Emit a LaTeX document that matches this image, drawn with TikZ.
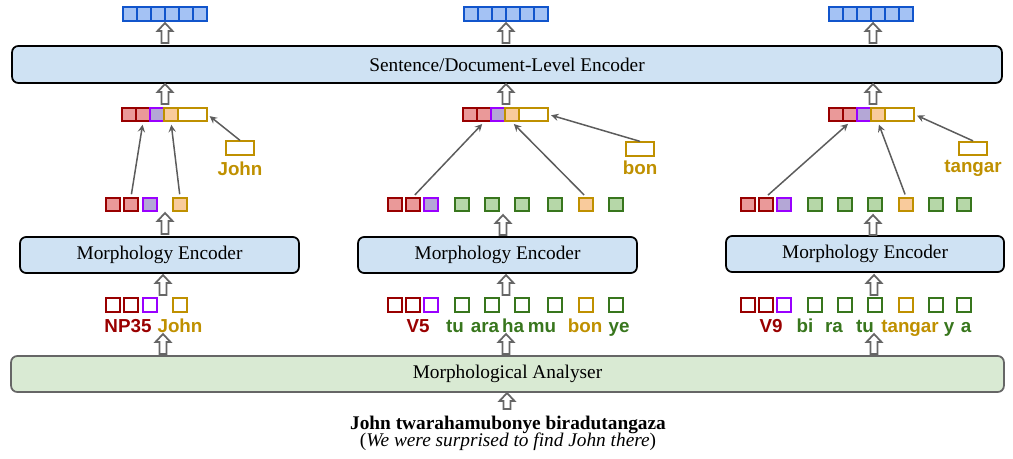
\documentclass[tikz,border=0pt]{standalone}
\usepackage{fontspec}
\setmainfont{Liberation Serif}
\newfontfamily\labfont{Liberation Sans}
\usepackage{tikz}
\usetikzlibrary{arrows}

\definecolor{encfill}{HTML}{CFE2F3}
\definecolor{anafill}{HTML}{D9EAD3}
\definecolor{cgray}{HTML}{666666}
\definecolor{cred}{HTML}{990000}
\definecolor{credf}{HTML}{EA9999}
\definecolor{cpurp}{HTML}{9900FF}
\definecolor{cpurpf}{HTML}{B4A7D6}
\definecolor{cgold}{HTML}{BF9000}
\definecolor{cgoldf}{HTML}{F9CB9C}
\definecolor{cgreen}{HTML}{38761D}
\definecolor{cgreenf}{HTML}{B6D7A8}
\definecolor{cblue}{HTML}{1155CC}
\definecolor{cbluef}{HTML}{A4C2F4}

% hollow block arrow: x, top y, bottom y
\newcommand{\holup}[3]{\draw[holar] (#1-3.5,#3) -- (#1-3.5,#2+8) -- (#1-7.5,#2+8) -- (#1,#2) -- (#1+7.5,#2+8) -- (#1+3.5,#2+8) -- (#1+3.5,#3) -- cycle;}

\begin{document}
\begin{tikzpicture}[x=0.02cm,y=-0.02cm,
    vcell/.style={draw, line width=1pt, inner sep=0pt, minimum size=0.27cm},
    rcell/.style={vcell, draw=cred, fill=credf},
    pcell/.style={vcell, draw=cpurp, fill=cpurpf},
    ocell/.style={vcell, draw=cgold, fill=cgoldf},
    gcell/.style={vcell, draw=cgreen, fill=cgreenf},
    bcell/.style={vcell, draw=cblue, fill=cbluef},
    wbox/.style={vcell, draw=cgold, fill=white, minimum width=0.57cm},
    encbox/.style={draw, line width=1pt, rounded corners=3.5pt, fill=encfill, minimum height=0.72cm, font=\fontsize{11}{13}\selectfont},
    anabox/.style={encbox, draw=cgray, fill=anafill},
    lab/.style={font=\labfont\bfseries\fontsize{10.7}{12}\selectfont, anchor=base, inner sep=0pt},
    thinar/.style={draw=cgray!90!black, line width=0.85pt, -stealth, shorten <=1.5pt, shorten >=1.5pt},
    holar/.style={draw=cgray, fill=white, line width=1pt}]
    \useasboundingbox (0,0) rectangle (1013,459);

    % encoders and analyser
    \node[encbox, minimum width=19.8cm, minimum height=0.74cm] (senc) at (507,64.5) {Sentence/Document-Level Encoder};
    \node[encbox, minimum width=5.58cm] (mencl) at (159.5,255) {Morphology Encoder};
    \node[encbox, minimum width=5.58cm] (mencm) at (497.5,255) {Morphology Encoder};
    \node[encbox, minimum width=5.56cm] (mencr) at (865,254) {Morphology Encoder};
    \node[anabox, minimum width=19.86cm] (ana) at (507.5,374) {Morphological Analyser};

    % output vectors
    \foreach \i in {1,...,6} {
        \node[bcell] (tl\i) at (116+14*\i,14) {};
        \node[bcell] (tm\i) at (457+14*\i,14) {};
        \node[bcell] (tr\i) at (822+14*\i,14) {};
    }

    % concatenated word vectors
    \foreach \t [count=\i] in {r,r,p,o} {
        \node[\t cell] (cl\i) at (115+14*\i,114.5) {};
        \node[\t cell] (cm\i) at (456+14*\i,114.5) {};
        \node[\t cell] (cr\i) at (822+14*\i,114.5) {};
    }
    \node[wbox] (cwl) at (192.5,114.5) {};
    \node[wbox] (cwm) at (533.5,114.5) {};
    \node[wbox] (cwr) at (899.5,114.5) {};

    % stem boxes
    \node[wbox] (jbox) at (240,148) {};
    \node[lab, text=cgold] (jlab) at (240,175) {John};
    \node[wbox] (bbox) at (640,149) {};
    \node[lab, text=cgold] (blab) at (640,174) {bon};
    \node[wbox] (tbox) at (973,148.5) {};
    \node[lab, text=cgold] (tlab) at (973,173) {tangar};

    % morpheme vectors and inputs
    \foreach \x/\t [count=\i] in {113/r,131/r,150/p,180/o} {
        \node[\t cell] (ml\i) at (\x,204.5) {};
        \node[\t cell, fill=white] (il\i) at (\x,305) {};
    }
    \foreach \x/\t [count=\i] in {395/r,413/r,431/p,462/g,492/g,522/g,555/g,586/o,616/g} {
        \node[\t cell] (mm\i) at (\x,204.5) {};
        \node[\t cell, fill=white] (im\i) at (\x,305) {};
    }
    \foreach \x/\t [count=\i] in {748/r,766/r,784/p,815/g,845/g,875/g,906/o,936/g,964/g} {
        \node[\t cell] (mr\i) at (\x,204.5) {};
        \node[\t cell, fill=white] (ir\i) at (\x,305) {};
    }

    % morpheme labels
    \foreach \w/\x/\c [count=\i] in {NP35/128/cred, John/180/cgold}
        \node[lab, text=\c] (wl\i) at (\x,332) {\w};
    \foreach \w/\x/\c [count=\i] in {V5/418/cred, tu/455/cgreen, ara/485/cgreen, ha/513/cgreen, mu/542/cgreen, bon/585/cgold, ye/619/cgreen}
        \node[lab, text=\c] (wm\i) at (\x,332) {\w};
    \foreach \w/\x/\c [count=\i] in {V9/771/cred, bi/805/cgreen, ra/834/cgreen, tu/865/cgreen, tangar/910/cgold, y/949/cgreen, a/966/cgreen}
        \node[lab, text=\c] (wr\i) at (\x,332) {\w};

    % input sentence
    \node[lab, font=\bfseries\fontsize{11}{13}\selectfont] (sent) at (508,429) {John twarahamubonye biradutangaza};
    \node[lab, font=\fontsize{11}{13}\selectfont] (gloss) at (508,446) {(\textit{We were surprised to find John there})};

    % thin arrows
    \draw[thinar] (ml2.north) -- (cl2.south);
    \draw[thinar] (ml4.north) -- (cl4.south);
    \draw[thinar, shorten <=0pt] (jbox.north) -- (cwl.east);
    \draw[thinar] (mm2.north) -- (cm2.south);
    \draw[thinar] (mm8.north) -- (cm4.south);
    \draw[thinar, shorten <=0pt] (bbox.north) -- (cwm.east);
    \draw[thinar] (mr2.north) -- (cr2.south);
    \draw[thinar] (mr7.north) -- (cr4.south);
    \draw[thinar, shorten <=0pt] (tbox.north) -- (cwr.east);

    % block arrows
    \foreach \x/\y in {165/23, 506/23, 873/23, 165/84, 506/84, 873/84} {
        \holup{\x}{\y}{\y+20}
    }
    \holup{165}{213}{234}
    \holup{503}{215}{235}
    \holup{873}{215}{235}
    \foreach \x in {163, 506, 874} {
        \holup{\x}{275}{295}
        \holup{\x}{334}{354}
    }
    \holup{507}{393}{409}
\end{tikzpicture}
\end{document}
